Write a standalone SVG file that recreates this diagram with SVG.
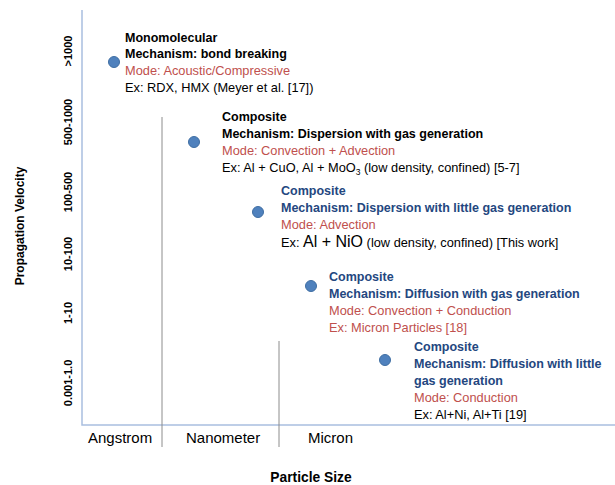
<svg xmlns="http://www.w3.org/2000/svg" width="615" height="485" viewBox="0 0 615 485">
<style>
text{font-family:"Liberation Sans",Arial,sans-serif;font-size:12.8px;fill:#000}
.b{font-weight:bold;font-size:12.5px}
.blue{fill:#24477f}
.red{fill:#c0504d}
.tick{font-weight:bold;font-size:11px}
.ax{font-size:15px}
.dot{fill:#4f81bd;stroke:#3f6ea3;stroke-width:1}
.axis{stroke:#a9bfdf;stroke-width:1.5;fill:none}
.div{stroke:#8c8c8c;stroke-width:1;fill:none}
</style>
<rect width="615" height="485" fill="#fff"/>
<g id="axes">
<path class="axis" d="M82 10V425H615"/>
<path class="div" d="M162 117V447M279 341V447"/>
<text class="ax" x="88" y="443">Angstrom</text>
<text class="ax" x="186" y="443">Nanometer</text>
<text class="ax" x="308" y="443">Micron</text>
<text class="b" x="311" y="482" style="font-size:13.8px" text-anchor="middle">Particle Size</text>
<text class="b" transform="translate(24 226) rotate(-90)" text-anchor="middle" style="font-size:12px">Propagation  Velocity</text>
<text class="tick" transform="translate(72 51) rotate(-90)" text-anchor="middle">&gt;1000</text>
<text class="tick" transform="translate(72 122) rotate(-90)" text-anchor="middle">500-1000</text>
<text class="tick" transform="translate(72 192) rotate(-90)" text-anchor="middle">100-500</text>
<text class="tick" transform="translate(72 254) rotate(-90)" text-anchor="middle">10-100</text>
<text class="tick" transform="translate(72 313) rotate(-90)" text-anchor="middle">1-10</text>
<text class="tick" transform="translate(72 383) rotate(-90)" text-anchor="middle">0.001-1.0</text>
</g>
<g id="connectors"></g>
<g id="node-monomolecular">
<circle class="dot" cx="114" cy="62" r="5.5"/>
<text class="b" x="125" y="42">Monomolecular</text>
<text class="b" x="125" y="58">Mechanism: bond breaking</text>
<text class="red" x="125" y="75">Mode: Acoustic/Compressive</text>
<text x="125" y="92">Ex: RDX, HMX (Meyer et al. [17])</text>
</g>
<g id="node-composite-1">
<circle class="dot" cx="194" cy="142" r="5.5"/>
<text class="b" x="222" y="121">Composite</text>
<text class="b" x="222" y="138">Mechanism: Dispersion with gas generation</text>
<text class="red" x="222" y="155">Mode: Convection + Advection</text>
<text x="222" y="172">Ex: Al + CuO, Al + MoO<tspan font-size="8.5" dy="3">3</tspan><tspan dy="-3"> (low density, confined) [5-7]</tspan></text>
</g>
<g id="node-composite-2">
<circle class="dot" cx="258" cy="212" r="5.5"/>
<text class="b blue" x="281" y="195">Composite</text>
<text class="b blue" x="281" y="212">Mechanism: Dispersion with little gas generation</text>
<text class="red" x="281" y="229">Mode: Advection</text>
<text x="281" y="247">Ex: <tspan font-size="16">Al + NiO</tspan> (low density, confined) [This work]</text>
</g>
<g id="node-composite-3">
<circle class="dot" cx="311" cy="286" r="5.5"/>
<text class="b blue" x="329" y="281">Composite</text>
<text class="b blue" x="329" y="298">Mechanism: Diffusion with gas generation</text>
<text class="red" x="329" y="315">Mode: Convection + Conduction</text>
<text class="red" x="329" y="332">Ex: Micron Particles [18]</text>
</g>
<g id="node-composite-4">
<circle class="dot" cx="385" cy="360" r="5.5"/>
<text class="b blue" x="414" y="351">Composite</text>
<text class="b blue" x="414" y="368">Mechanism: Diffusion with little</text>
<text class="b blue" x="414" y="385">gas generation</text>
<text class="red" x="414" y="402">Mode: Conduction</text>
<text x="414" y="419">Ex: Al+Ni, Al+Ti [19]</text>
</g>
</svg>
